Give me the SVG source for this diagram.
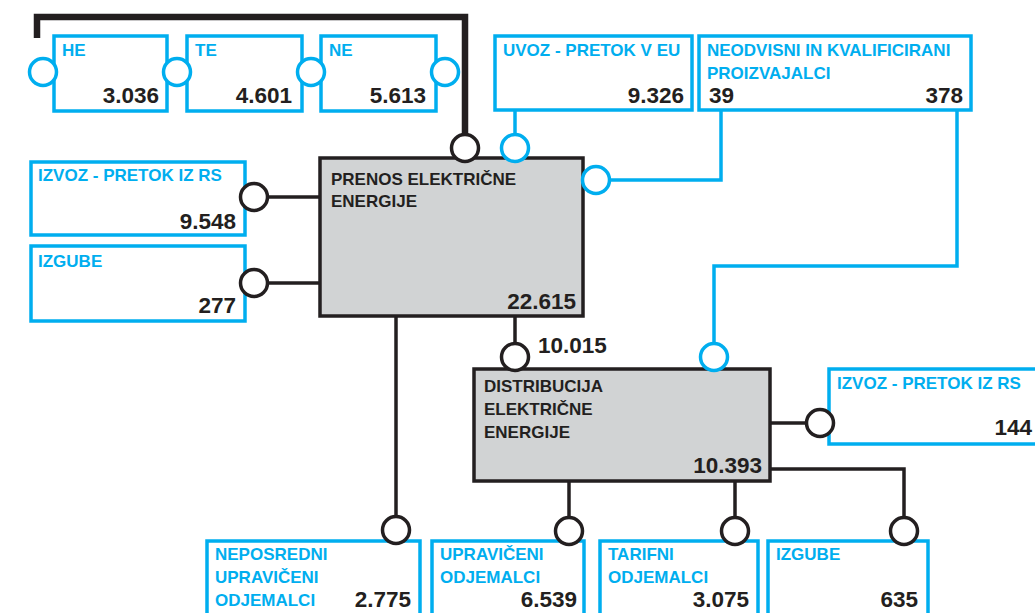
<svg xmlns="http://www.w3.org/2000/svg" width="1035" height="613" viewBox="0 0 1035 613">
<style>
.bx{fill:#fff;stroke:#00aeef;stroke-width:3.5}
.gb{fill:#d1d3d4;stroke:#231f20;stroke-width:3.5}
.lb{font-family:"Liberation Sans",Arial,sans-serif;font-weight:bold;font-size:17px;fill:#00aeef}
.dl{font-family:"Liberation Sans",Arial,sans-serif;font-weight:bold;font-size:17px;fill:#231f20}
.nm{font-family:"Liberation Sans",Arial,sans-serif;font-weight:bold;font-size:22.5px;fill:#231f20}
.r{text-anchor:end}
.cb{fill:#fff;stroke:#00aeef;stroke-width:3.5}
.ck{fill:#fff;stroke:#231f20;stroke-width:3.5}
.lk{fill:none;stroke:#231f20;stroke-width:3.5}
.lbk{fill:none;stroke:#00aeef;stroke-width:3.5}
</style>
<rect width="1035" height="613" fill="#fff"/>
<g id="connectors">
<polyline class="lk" points="37,38 37,17 465,17 465,134" style="stroke-width:6.5"/>
<line class="lbk" x1="515" y1="110" x2="515" y2="134"/>
<polyline class="lbk" points="721,110 721,180 610,180"/>
<polyline class="lbk" points="957,110 957,266 714,266 714,343"/>
<line class="lk" x1="268" y1="197" x2="320" y2="197"/>
<line class="lk" x1="268" y1="283" x2="320" y2="283"/>
<line class="lk" x1="396" y1="316" x2="396" y2="516"/>
<line class="lk" x1="515" y1="316" x2="515" y2="343"/>
<line class="lk" x1="770" y1="423" x2="806" y2="423"/>
<line class="lk" x1="569" y1="481" x2="569" y2="517"/>
<line class="lk" x1="735" y1="481" x2="735" y2="517"/>
<polyline class="lk" points="770,469 904,469 904,517"/>
</g>
<g id="he">
<rect class="bx" x="54" y="36" width="113" height="75"/>
<text class="lb" x="62" y="56">HE</text>
<text class="nm r" x="159" y="103">3.036</text>
</g>
<g id="te">
<rect class="bx" x="187" y="36" width="115" height="75"/>
<text class="lb" x="195" y="56">TE</text>
<text class="nm r" x="292" y="103">4.601</text>
</g>
<g id="ne">
<rect class="bx" x="321" y="36" width="115" height="75"/>
<text class="lb" x="329" y="56">NE</text>
<text class="nm r" x="426" y="103">5.613</text>
</g>
<g id="ports-top">
<circle class="cb" cx="43" cy="72" r="13.5"/>
<circle class="cb" cx="177" cy="72" r="13.5"/>
<circle class="cb" cx="311" cy="72" r="13.5"/>
<circle class="cb" cx="445" cy="72" r="13.5"/>
</g>
<g id="uvoz">
<rect class="bx" x="495" y="36" width="197" height="74"/>
<text class="lb" x="503" y="56">UVOZ - PRETOK V EU</text>
<text class="nm r" x="684" y="103">9.326</text>
</g>
<g id="neodvisni">
<rect class="bx" x="699" y="36" width="272" height="74"/>
<text class="lb" x="707" y="56">NEODVISNI IN KVALIFICIRANI</text>
<text class="lb" x="707" y="79">PROIZVAJALCI</text>
<text class="nm" x="709" y="103">39</text>
<text class="nm r" x="963" y="103">378</text>
</g>
<g id="izvoz-rs">
<rect class="bx" x="31" y="162" width="214" height="73"/>
<text class="lb" x="38" y="181">IZVOZ - PRETOK IZ RS</text>
<text class="nm r" x="236" y="229">9.548</text>
</g>
<g id="izgube-prenos">
<rect class="bx" x="31" y="246" width="214" height="75"/>
<text class="lb" x="38" y="267">IZGUBE</text>
<text class="nm r" x="236" y="313">277</text>
</g>
<g id="prenos">
<rect class="gb" x="320" y="158" width="263" height="158"/>
<text class="dl" x="331" y="185">PRENOS ELEKTRIČNE</text>
<text class="dl" x="331" y="207">ENERGIJE</text>
<text class="nm r" x="576" y="309">22.615</text>
<circle class="ck" cx="465" cy="148" r="13.5"/>
<circle class="cb" cx="515" cy="148" r="13.5"/>
<circle class="cb" cx="596" cy="180" r="13.5"/>
<circle class="ck" cx="254" cy="197" r="13.5"/>
<circle class="ck" cx="254" cy="283" r="13.5"/>
</g>
<text class="nm" x="538" y="353">10.015</text>
<g id="distribucija">
<rect class="gb" x="474" y="369" width="296" height="112"/>
<text class="dl" x="484" y="392">DISTRIBUCIJA</text>
<text class="dl" x="484" y="415">ELEKTRIČNE</text>
<text class="dl" x="484" y="438">ENERGIJE</text>
<text class="nm r" x="762" y="473">10.393</text>
<circle class="ck" cx="515" cy="357" r="13.5"/>
<circle class="cb" cx="714" cy="357" r="13.5"/>
</g>
<g id="izvoz-rs-2">
<rect class="bx" x="829" y="369" width="220" height="75"/>
<text class="lb" x="837" y="389">IZVOZ - PRETOK IZ RS</text>
<text class="nm r" x="1032" y="435">144</text>
<circle class="ck" cx="820" cy="423" r="13.5"/>
</g>
<g id="neposredni">
<rect class="bx" x="207" y="541" width="213" height="80"/>
<text class="lb" x="215" y="560">NEPOSREDNI</text>
<text class="lb" x="215" y="583">UPRAVIČENI</text>
<text class="lb" x="215" y="606">ODJEMALCI</text>
<text class="nm r" x="411" y="607">2.775</text>
<circle class="ck" cx="396" cy="530" r="13.5"/>
</g>
<g id="upraviceni">
<rect class="bx" x="432" y="541" width="152" height="80"/>
<text class="lb" x="440" y="560">UPRAVIČENI</text>
<text class="lb" x="440" y="583">ODJEMALCI</text>
<text class="nm r" x="577" y="607">6.539</text>
<circle class="ck" cx="569" cy="531" r="13.5"/>
</g>
<g id="tarifni">
<rect class="bx" x="600" y="541" width="158" height="80"/>
<text class="lb" x="608" y="560">TARIFNI</text>
<text class="lb" x="608" y="583">ODJEMALCI</text>
<text class="nm r" x="749" y="607">3.075</text>
<circle class="ck" cx="735" cy="531" r="13.5"/>
</g>
<g id="izgube-dist">
<rect class="bx" x="768" y="541" width="160" height="80"/>
<text class="lb" x="776" y="560">IZGUBE</text>
<text class="nm r" x="918" y="607">635</text>
<circle class="ck" cx="904" cy="531" r="13.5"/>
</g>
</svg>
